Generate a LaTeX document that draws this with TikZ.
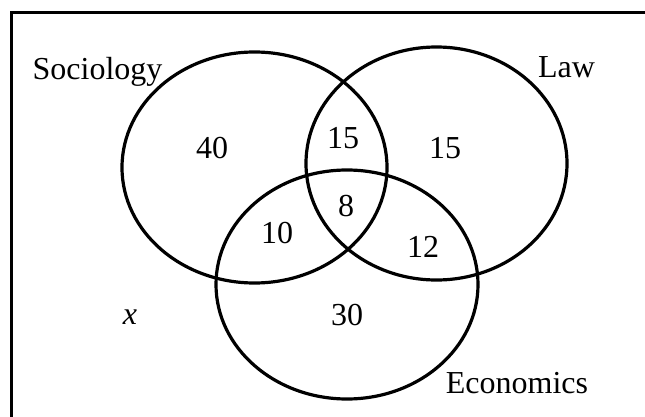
\documentclass[tikz,border=0pt]{standalone}
\usepackage{fontspec}
\setmainfont{Liberation Serif}
\begin{document}
\begin{tikzpicture}[x=1pt,y=1pt,
  setline/.style={line width=3.2pt,black},
  frameline/.style={line width=3.2pt,black},
  lbl/.style={inner sep=0pt,font=\fontsize{32}{36}\selectfont},
  num/.style={inner sep=0pt,font=\fontsize{32}{36}\selectfont}]
\useasboundingbox (0,0) rectangle (645,416);
% frame (extends past the right and bottom edges)
\draw[frameline] (11.5,-10) -- (11.5,403.5) -- (660,403.5);
% sets
\draw[setline] (254.5,248.5) ellipse [x radius=132.5, y radius=115.5];
\draw[setline] (436.5,252.5) ellipse [x radius=130.5, y radius=116.5];
\draw[setline] (347,131.5) ellipse [x radius=131, y radius=114.5];
% set names
\node[lbl,anchor=base] (soc) at (97.5,337) {Sociology};
\node[lbl,anchor=base] (law) at (566.5,338) {Law};
\node[lbl,anchor=base] (eco) at (517,23) {Economics};
% counts
\node[num] (n40) at (212,268) {40};
\node[num] (n15a) at (343,278) {15};
\node[num] (n15b) at (445,268) {15};
\node[num] (n8) at (346,210) {8};
\node[num] (n10) at (277,183) {10};
\node[num] (n12) at (423,169) {12};
\node[num] (n30) at (347,101) {30};
\node[num] (nx) at (130,99) {\itshape x};
\end{tikzpicture}
\end{document}
